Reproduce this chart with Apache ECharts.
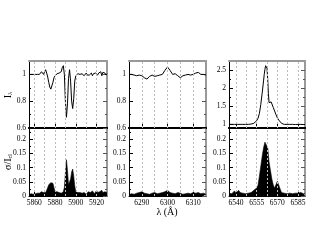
<!DOCTYPE html>
<html><head><meta charset="utf-8">
<script src="https://cdn.jsdelivr.net/npm/echarts@6/dist/echarts.min.js"></script>
<style>html,body{margin:0;padding:0;background:#fff}#c{width:317px;height:245px}</style>
</head><body><div id="c"></div>
<script>
// ---- Panel 1 (Na D region) ----
const wl1 = [5855,5856,5857,5858,5859,5860,5861,5862,5863,5864,5865,5866,5867,5868,5869,5870,5871,5872,5873,5874,5875,5876,5877,5878,5879,5880,5881,5882,5883,5884,5885,5886,5887,5888,5889,5890,5891,5892,5893,5894,5895,5896,5897,5898,5899,5900,5901,5902,5903,5904,5905,5906,5907,5908,5909,5910,5911,5912,5913,5914,5915,5916,5917,5918,5919,5920,5921,5922,5923,5924,5925,5926,5927,5928,5929,5930];
const flux1 = [1.0,0.995,1.0,0.99,1.0,0.995,1.0,0.99,1.0,1.005,1.0,1.01,1.02,1.015,1.0,1.02,1.035,1.01,0.98,0.94,0.905,0.89,0.9,0.94,0.975,0.99,0.995,1.005,0.995,1.01,1.0,1.02,1.05,1.065,1.0,0.8,0.68,0.78,0.97,1.035,0.95,0.8,0.745,0.82,0.95,0.99,1.0,1.005,0.995,1.0,0.995,1.005,1.0,0.99,1.0,1.01,0.995,1.005,0.995,1.0,1.01,0.99,1.005,1.0,1.01,1.02,0.995,1.01,1.0,1.02,0.99,1.015,1.005,1.01,0.995,1.005];
const sig1 = [0.005,0.01,0.008,0.012,0.006,0.01,0.008,0.012,0.01,0.015,0.01,0.012,0.015,0.01,0.012,0.015,0.012,0.02,0.03,0.04,0.045,0.047,0.048,0.045,0.03,0.015,0.012,0.015,0.01,0.012,0.015,0.01,0.012,0.015,0.03,0.08,0.128,0.09,0.04,0.035,0.06,0.085,0.095,0.07,0.035,0.015,0.01,0.012,0.008,0.012,0.006,0.01,0.008,0.012,0.01,0.006,0.01,0.015,0.008,0.012,0.01,0.018,0.012,0.008,0.015,0.02,0.012,0.01,0.015,0.01,0.02,0.012,0.008,0.015,0.01,0.012];
// ---- Panel 2 ([O I] 6300 region) ----
const wl2 = [6285,6286,6287,6288,6289,6290,6291,6292,6293,6294,6295,6296,6297,6298,6299,6300,6301,6302,6303,6304,6305,6306,6307,6308,6309,6310,6311,6312,6313,6314,6315];
const flux2 = [1.0,1.0,0.995,0.99,0.995,0.99,0.975,0.965,0.985,0.995,0.985,0.99,0.995,1.0,1.03,1.055,1.03,1.0,1.005,0.99,0.975,0.99,0.995,1.0,0.995,1.0,1.01,1.015,1.0,1.0,0.995];
const sig2 = [0.005,0.008,0.006,0.01,0.012,0.015,0.01,0.008,0.006,0.01,0.012,0.008,0.01,0.012,0.015,0.02,0.012,0.01,0.008,0.012,0.01,0.006,0.008,0.01,0.008,0.012,0.01,0.012,0.008,0.01,0.006];
// ---- Panel 3 (H-alpha region) ----
const wl3a = [6535,6536,6537,6538,6539,6540,6541,6542,6543,6544,6545,6546,6547,6548,6549,6550,6551,6552,6553,6554,6555,6556,6557,6558,6559,6560,6560.5,6561,6561.5,6562,6562.5,6563,6563.5,6564,6564.5,6565,6565.5,6566,6567,6568,6569,6570,6571,6572,6573,6574,6575,6576,6577,6578,6579,6580,6581,6582,6583,6584,6585,6586,6587,6588,6589,6590];
const flux3 = [1.0,0.995,1.0,0.995,1.0,0.995,1.0,0.995,1.0,0.995,1.0,1.0,1.0,1.005,1.0,1.005,1.01,1.015,1.03,1.06,1.1,1.17,1.3,1.55,1.86,2.2,2.38,2.52,2.62,2.66,2.55,2.25,1.85,1.6,1.6,1.64,1.62,1.57,1.47,1.37,1.27,1.18,1.12,1.07,1.03,1.01,1.0,0.995,1.0,0.995,1.0,0.995,1.0,1.0,0.995,1.0,1.0,0.995,1.0,1.0,0.995,1.0];
const wl3b = [6535,6536,6537,6538,6539,6540,6541,6542,6543,6544,6545,6546,6547,6548,6549,6550,6551,6552,6553,6554,6555,6556,6557,6558,6559,6560,6561,6562,6563,6564,6565,6566,6567,6568,6569,6570,6571,6572,6573,6574,6575,6576,6577,6578,6579,6580,6581,6582,6583,6584,6585,6586,6587,6588,6589,6590];
const sig3 = [0.01,0.015,0.008,0.012,0.018,0.01,0.015,0.02,0.012,0.018,0.01,0.015,0.008,0.012,0.01,0.008,0.012,0.015,0.02,0.022,0.028,0.038,0.07,0.105,0.14,0.17,0.19,0.193,0.17,0.12,0.09,0.06,0.04,0.028,0.035,0.052,0.058,0.025,0.012,0.015,0.01,0.012,0.008,0.015,0.01,0.012,0.008,0.015,0.01,0.012,0.01,0.015,0.012,0.01,0.008,0.01];

// ---- Axis ranges and ticks ----
const xRange = [[5855,5930],[6285,6315],[6535,6590]];
const xLabels = [[5860,5880,5900,5920],[6290,6300,6310],[6540,6555,6570,6585]];
const xGridVals = [[5860,5870,5880,5890,5900,5910,5920],[6290,6295,6300,6305,6310],[6540,6547.5,6555,6562.5,6570,6577.5,6585]];
const xMinor = [[5870,5890,5910],[6295,6305],[6547.5,6562.5,6577.5]];
const yTopRange = [[0.6,1.1],[0.6,1.1],[0.9,2.75]];
const yTopLabels = [[0.6,0.8,1],[0.6,0.8,1],[1,1.5,2,2.5]];
const yTopMinor = [[0.7,0.9],[0.7,0.9],[1.25,1.75,2.25]];
const ySigRange = [0,0.24];
const ySigLabels = [0,0.05,0.1,0.15,0.2];
const ySigMinor = [0.025,0.075,0.125,0.175,0.225];
const yTitleTop = 'I';
const yTitleTopSub = 'λ';
const yTitleBot = 'σ/I';
const yTitleBotSub = 'cl';
const xTitle = 'λ (Å)';

const FONT = 'Liberation Serif';
const fmt = v => String(Math.round(v*1000)/1000);
const cols = [{left:29,width:78},{left:129,width:77},{left:229,width:76}];
const rows = [{top:61,height:67},{top:128,height:68}];
const panels = [
  {x:wl1, y:flux1, area:false},{x:wl2, y:flux2, area:false},{x:wl3a, y:flux3, area:false},
  {x:wl1, y:sig1, area:true},{x:wl2, y:sig2, area:true},{x:wl3b, y:sig3, area:true}
];

const grids=[], xAxes=[], yAxes=[], series=[];
for (let r=0;r<2;r++) for (let c=0;c<3;c++) {
  const g = grids.length;
  grids.push({left:cols[c].left, width:cols[c].width, top:rows[r].top, height:rows[r].height});
  const yr = r===0 ? yTopRange[c] : ySigRange;
  const yl = r===0 ? yTopLabels[c] : ySigLabels;
  const ym = r===0 ? yTopMinor[c] : ySigMinor;
  const xi = xAxes.length;
  xAxes.push({type:'value', gridIndex:g, position:'bottom', min:xRange[c][0], max:xRange[c][1],
    axisLine:{show:true, onZero:false, lineStyle:{color:'#000', width: r===0?2:1}},
    axisTick:{show:true, inside:true, length:4, customValues:xLabels[c], lineStyle:{color:'#000'}},
    axisLabel:{show:r===1, customValues:xLabels[c], formatter:fmt, fontFamily:FONT, fontSize:7.5, color:'#000', margin:3},
    splitLine:{show:false}});
  xAxes.push({type:'value', gridIndex:g, position:'bottom', min:xRange[c][0], max:xRange[c][1],
    axisLine:{show:false}, axisTick:{show:true, inside:true, length:2, customValues:xMinor[c], lineStyle:{color:'#000'}},
    axisLabel:{show:false}, splitLine:{show:false}});
  xAxes.push({type:'value', gridIndex:g, position:'top', min:xRange[c][0], max:xRange[c][1],
    axisLine:{show:true, onZero:false, lineStyle:{color: r===1?'#000':'#999', width:2}},
    axisTick:{show:false}, axisLabel:{show:false}, splitLine:{show:false}});
  const yi = yAxes.length;
  yAxes.push({type:'value', gridIndex:g, position:'left', min:yr[0], max:yr[1],
    axisLine:{show:true, onZero:false, lineStyle:{color:'#000', width:1}},
    axisTick:{show:true, inside:true, length:4, customValues:yl, lineStyle:{color:'#000'}},
    axisLabel:{show:true, customValues:yl, formatter:fmt, fontFamily:FONT, fontSize:7.5, color:'#000', margin:3},
    splitLine:{show:false}});
  yAxes.push({type:'value', gridIndex:g, position:'left', min:yr[0], max:yr[1],
    axisLine:{show:false}, axisTick:{show:true, inside:true, length:2, customValues:ym, lineStyle:{color:'#000'}},
    axisLabel:{show:false}, splitLine:{show:false}});
  yAxes.push({type:'value', gridIndex:g, position:'right', min:yr[0], max:yr[1],
    axisLine:{show:true, onZero:false, lineStyle:{color:'#999', width:2}},
    axisTick:{show:true, inside:true, length:4, customValues:yl, lineStyle:{color:'#555'}},
    axisLabel:{show:false}, splitLine:{show:false}});
  yAxes.push({type:'value', gridIndex:g, position:'right', min:yr[0], max:yr[1],
    axisLine:{show:false}, axisTick:{show:true, inside:true, length:2, customValues:ym, lineStyle:{color:'#555'}},
    axisLabel:{show:false}, splitLine:{show:false}});
  const p = panels[g];
  series.push({type:'line', xAxisIndex:xi, yAxisIndex:yi, data:p.x.map((v,i)=>[v,p.y[i]]),
    showSymbol:false, symbol:'none', silent:true, animation:false, z:3,
    lineStyle:{color:'#000', width: p.area?0.6:1},
    areaStyle: p.area ? {color:'#000', opacity:1} : undefined,
    markLine:{silent:true, symbol:'none', animation:false, label:{show:false},
      lineStyle:{type:[2,2], color:'#bbb', width:1},
      data:xGridVals[c].map(v=>({xAxis:v}))}});
}

const chart = echarts.init(document.getElementById('c'), null, {renderer:'canvas'});
chart.setOption({
  animation:false,
  backgroundColor:'#fff',
  grid:grids, xAxis:xAxes, yAxis:yAxes, series:series,
  graphic:[
    {type:'text', x:8, y:95, rotation:Math.PI/2, style:{text:'{a|'+yTitleTop+'}{s|'+yTitleTopSub+'}', rich:{a:{fontFamily:FONT,fontSize:10,fill:'#000'}, s:{fontFamily:FONT,fontSize:7,fill:'#000', padding:[5,0,0,0]}}, fill:'#000', align:'center', verticalAlign:'middle'}},
    {type:'text', x:8, y:162, rotation:Math.PI/2, style:{text:'{a|'+yTitleBot+'}{s|'+yTitleBotSub+'}', rich:{a:{fontFamily:FONT,fontSize:10,fill:'#000'}, s:{fontFamily:FONT,fontSize:6,fill:'#000', padding:[5,0,0,0]}}, fill:'#000', align:'center', verticalAlign:'middle'}},
    {type:'text', x:167, y:212, style:{text:xTitle, fontFamily:FONT, fontSize:10, fill:'#000', align:'center', verticalAlign:'middle'}}
  ]
});
</script></body></html>
